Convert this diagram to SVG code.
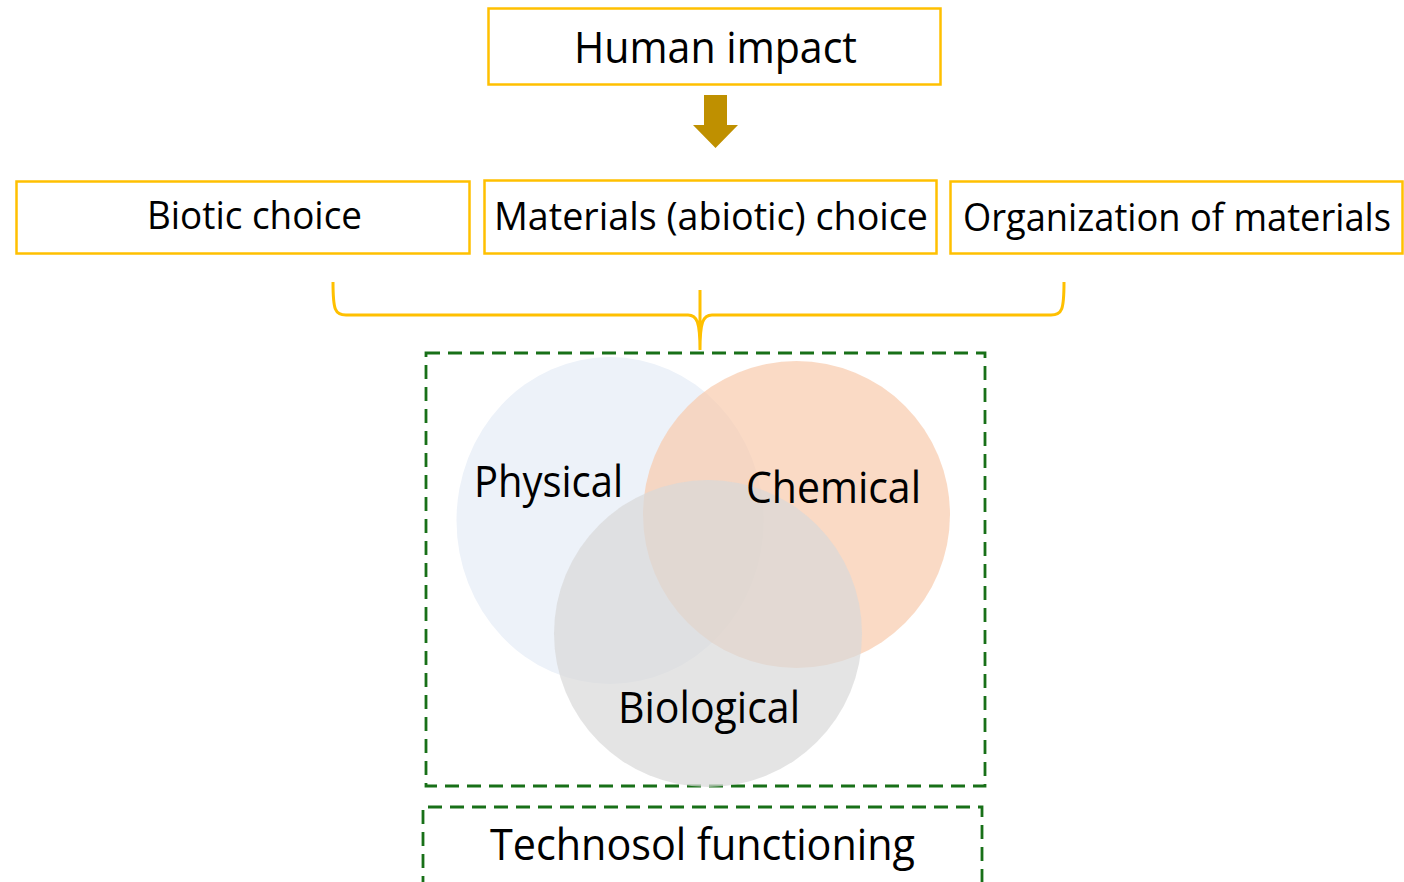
<svg xmlns="http://www.w3.org/2000/svg" width="1404" height="882" viewBox="0 0 1404 882">
<style>
.box{fill:#fff;stroke:#FFC000;stroke-width:2.5}
.dash{fill:none;stroke:#187018;stroke-width:2.8;stroke-dasharray:14 8}
text{font-family:"Open Sans","Noto Sans","Liberation Sans",sans-serif;fill:#000}
.t38{font-size:38px}
.t43{font-size:43px}
</style>
<rect width="1404" height="882" fill="#fff"/>
<g id="human-impact">
<rect class="box" x="488.5" y="8.5" width="452" height="76"/>
<text class="t43" x="574" y="63" textLength="283" lengthAdjust="spacingAndGlyphs">Human impact</text>
</g>
<g id="connectors">
<path d="M704,95 H727 V125 H738 L715.5,148 L693,125 H704 Z" fill="#BF9000"/>
<path d="M333,282 C333,310 335,315 346,315 L688,315 C697,315 700,322 700,350 C700,322 703,315 712,315 L1051,315 C1062,315 1064,310 1064,282 M700,290 V350" fill="none" stroke="#FFC000" stroke-width="3"/>
</g>
<g id="biotic-choice">
<rect class="box" x="16.5" y="181.5" width="453" height="72"/>
<text class="t38" x="147" y="229" textLength="215" lengthAdjust="spacingAndGlyphs">Biotic choice</text>
</g>
<g id="materials-choice">
<rect class="box" x="484.5" y="180.5" width="452" height="73"/>
<text class="t38" x="494" y="230" textLength="434" lengthAdjust="spacingAndGlyphs">Materials (abiotic) choice</text>
</g>
<g id="organization">
<rect class="box" x="950.5" y="181.5" width="452" height="72"/>
<text class="t38" x="963" y="231" textLength="428" lengthAdjust="spacingAndGlyphs">Organization of materials</text>
</g>
<g id="venn">
<rect class="dash" x="426" y="353" width="559" height="433"/>
<ellipse cx="610" cy="520.5" rx="153.5" ry="163.5" fill="#EDF2F9"/>
<circle cx="796.5" cy="514.5" r="153.5" fill="#F8CBAD" fill-opacity="0.7"/>
<ellipse cx="708" cy="633.5" rx="154" ry="153.5" fill="#D9D9D9" fill-opacity="0.7"/>
<text class="t43" x="474" y="497" textLength="149" lengthAdjust="spacingAndGlyphs">Physical</text>
<text class="t43" x="746" y="503" textLength="175" lengthAdjust="spacingAndGlyphs">Chemical</text>
<text class="t43" x="618" y="723" textLength="182" lengthAdjust="spacingAndGlyphs">Biological</text>
</g>
<g id="technosol-functioning">
<path class="dash" d="M423,890 V807 H982 V890"/>
<text class="t43" x="490" y="860" textLength="425" lengthAdjust="spacingAndGlyphs">Technosol functioning</text>
</g>
</svg>
